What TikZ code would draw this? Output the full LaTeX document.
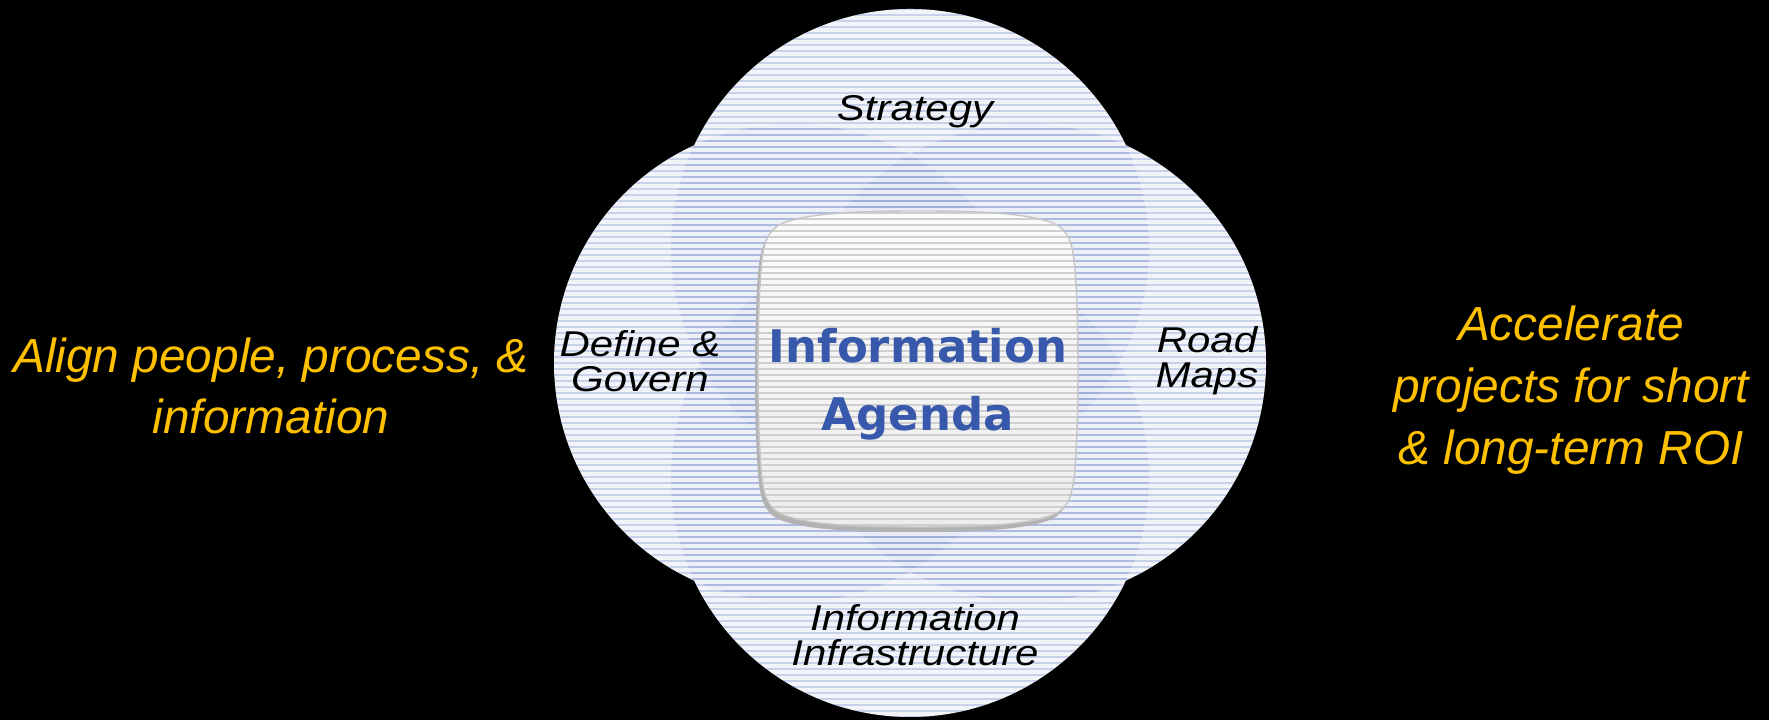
\documentclass[tikz,border=0pt]{standalone}
\usepackage{fontspec}
\setmainfont{Liberation Sans}
\newfontfamily\labelfont[FakeStretch=1.17]{Liberation Sans}
\newfontfamily\agendafont{DejaVu Sans}
\definecolor{ringblue}{RGB}{138,158,210}
\definecolor{ringbase}{RGB}{247,248,252}
\definecolor{agendablue}{RGB}{56,88,172}
\definecolor{goal}{RGB}{255,192,0}
\tikzset{stripes/.style = {draw=ringblue, line width=0.028cm, opacity=0.4}}
\tikzset{panelstripes/.style = {draw=gray!38, line width=0.025cm}}
\tikzset{area/.style = {font=\labelfont\fontsize{10.2}{10}\selectfont\itshape, align=center, text=black}}
\tikzset{goaltext/.style = {font=\fontsize{13.6}{17.6}\selectfont\itshape, align=center, text=goal}}
\newcommand\agendapath{(9.18,5.09) .. controls (9.90,5.09) and (10.25,5.06) .. (10.50,4.98)
 .. controls (10.68,4.92) and (10.73,4.78) .. (10.75,4.50)
 .. controls (10.79,4.00) and (10.79,3.02) .. (10.75,2.52)
 .. controls (10.73,2.24) and (10.68,2.10) .. (10.50,2.04)
 .. controls (10.25,1.96) and (9.90,1.93) .. (9.18,1.93)
 .. controls (8.46,1.93) and (8.11,1.96) .. (7.86,2.04)
 .. controls (7.68,2.10) and (7.63,2.24) .. (7.61,2.52)
 .. controls (7.57,3.02) and (7.57,4.00) .. (7.61,4.50)
 .. controls (7.63,4.78) and (7.68,4.92) .. (7.86,4.98)
 .. controls (8.11,5.06) and (8.46,5.09) .. (9.18,5.09) -- cycle}
\begin{document}
\begin{tikzpicture}
\useasboundingbox (0,0) rectangle (17.69,7.20);
\fill[black] (0,0) rectangle (17.69,7.20);

\foreach \cx/\cy in {9.10/4.72, 9.10/2.42, 7.93/3.57, 10.27/3.57}
  \fill[ringbase] (\cx,\cy) circle (2.39);
\foreach \cx/\cy in {9.10/4.72, 9.10/2.42, 7.93/3.57, 10.27/3.57}{
  \begin{scope}
    \clip (\cx,\cy) circle (2.39);
    \fill[ringblue, opacity=0.04] (\cx,\cy) circle (2.39);
    \foreach \y in {0.03,0.09,...,7.2}
      \draw[stripes] (5.4,\y) -- (12.8,\y);
  \end{scope}
}

\fill[gray!60, xshift=-0.03cm, yshift=-0.05cm] \agendapath;
\shade[top color=gray!3, bottom color=gray!14] \agendapath;
\begin{scope}
  \clip \agendapath;
  \foreach \y in {0.03,0.09,...,7.2}
    \draw[panelstripes] (7.4,\y) -- (11,\y);
\end{scope}
\draw[gray!45, line width=0.4pt] \agendapath;

\node[area] (strategy) at (9.15,6.08) {Strategy};
\node[area] (define) at (6.40,3.59) {Define \&\\Govern};
\node[area] (roadmaps) at (12.07,3.59) {Road\\Maps};
\node[area] (infra) at (9.15,0.85) {Information\\Infrastructure};
\node[font=\agendafont\bfseries\fontsize{12.8}{19.4}\selectfont, text=agendablue, align=center] (agenda) at (9.18,3.36) {Information\\Agenda};

\node[goaltext] (align) at (2.71,3.34) {Align people, process, \&\\information};
\node[goaltext] (accel) at (15.71,3.30) {Accelerate\\projects for short\\\& long-term ROI};
\end{tikzpicture}
\end{document}
